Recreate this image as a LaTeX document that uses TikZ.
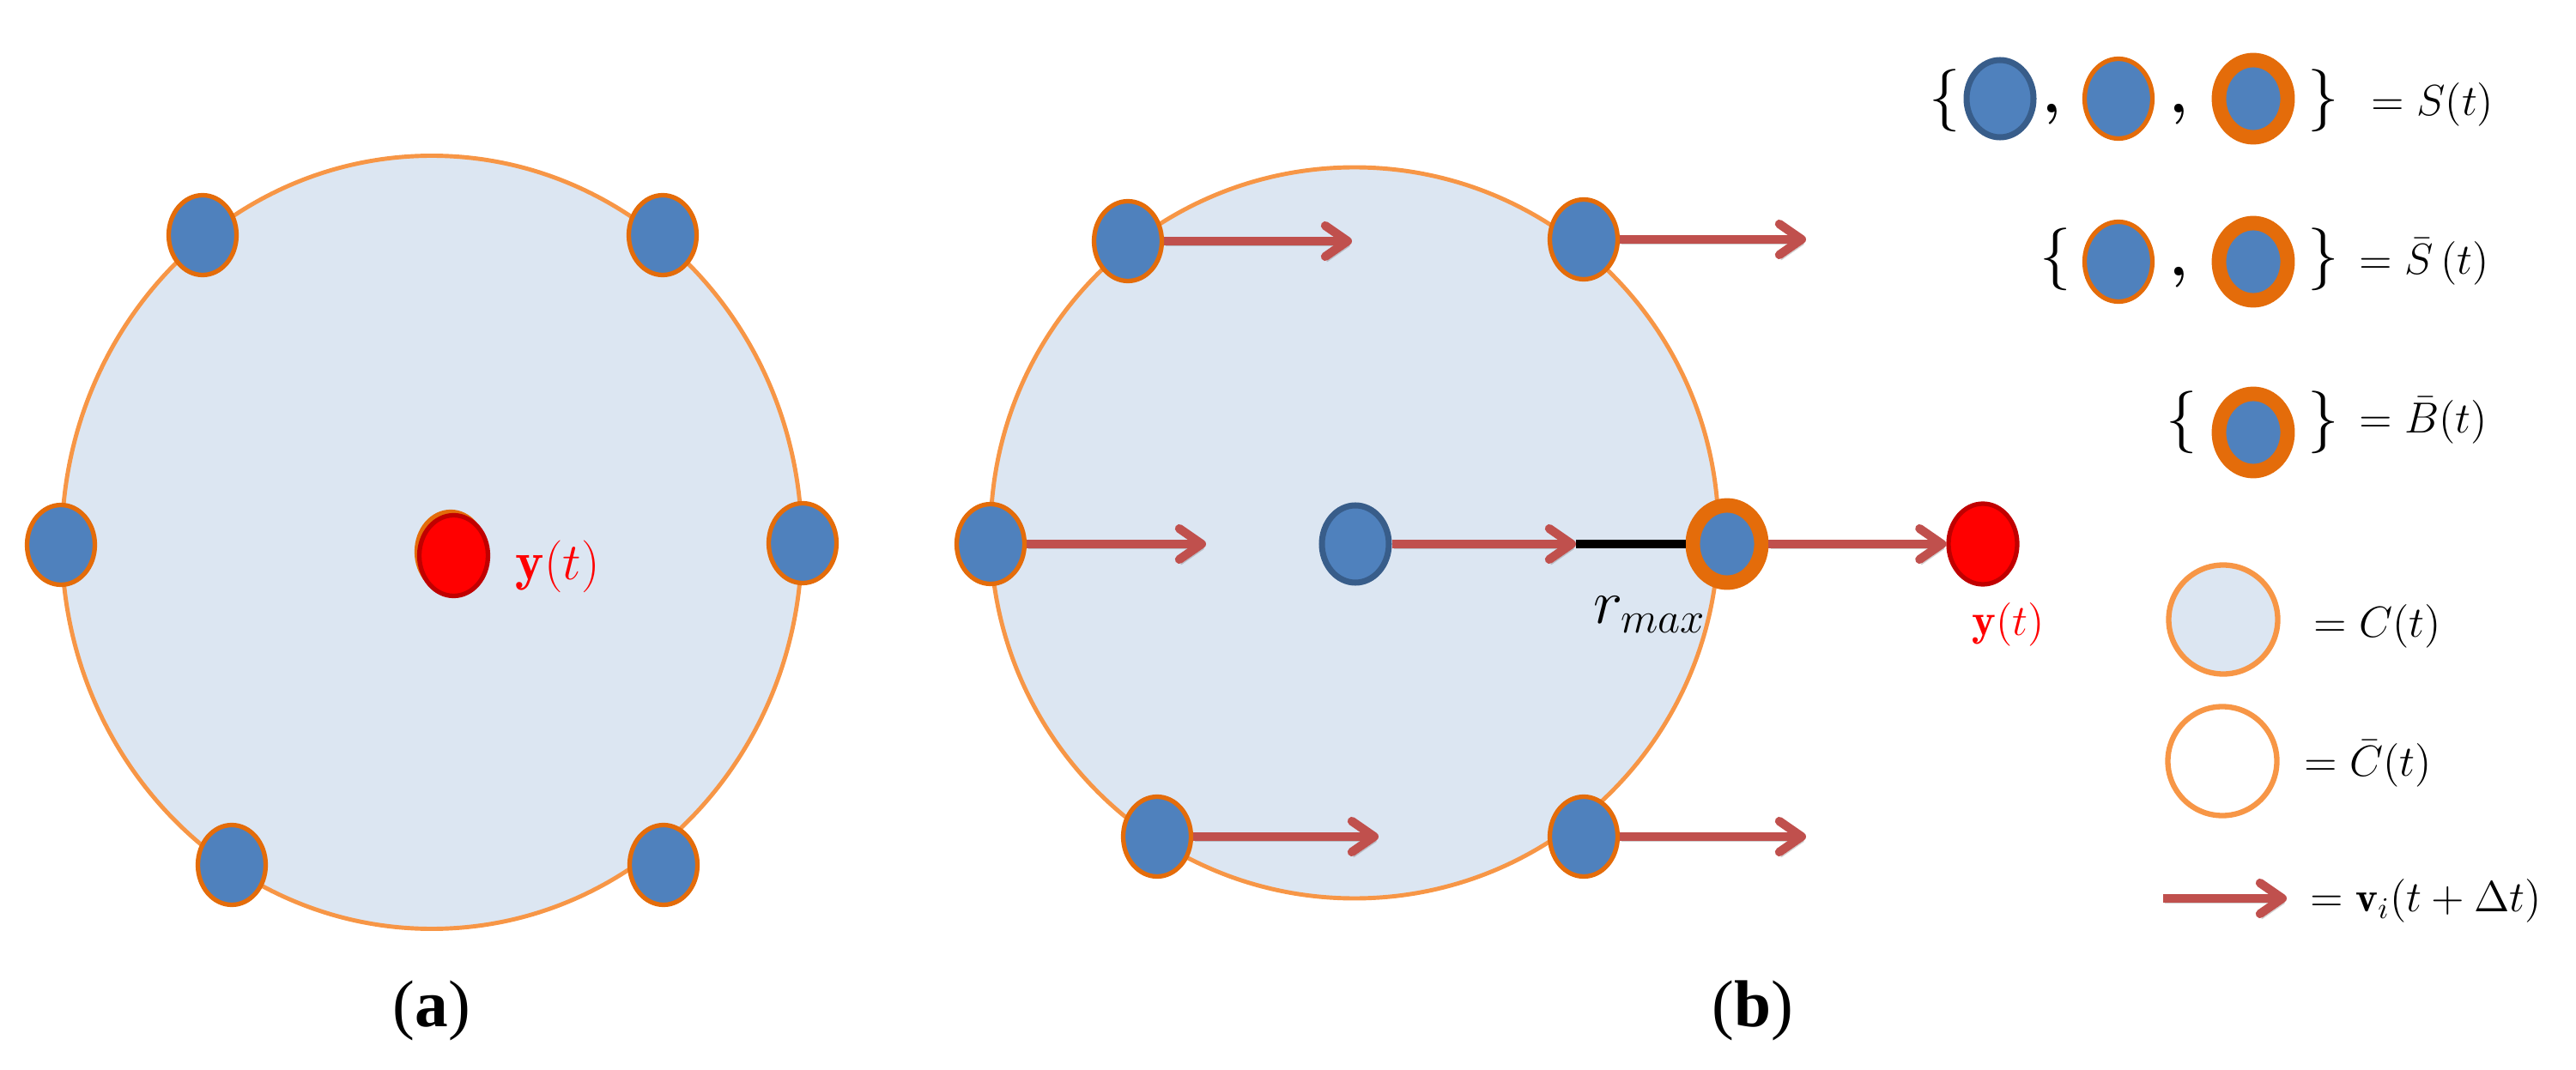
\documentclass[tikz,border=0pt]{standalone}
\usepackage{fontspec}
\usepackage{amsmath}
\usetikzlibrary{shapes.geometric, arrows.meta, positioning}
\newfontfamily\capfont{Liberation Serif}
\definecolor{zonefill}{RGB}{220,230,242}
\definecolor{zoneline}{RGB}{247,150,70}
\definecolor{agentblue}{RGB}{79,129,189}
\definecolor{agentrim}{RGB}{228,108,10}
\definecolor{leadrim}{RGB}{56,93,138}
\definecolor{targetrim}{RGB}{192,0,0}
\definecolor{velored}{RGB}{192,80,77}

\begin{document}
\begin{tikzpicture}[
    zone/.style={ellipse, draw=zoneline, line width=1.4pt, fill=zonefill, inner sep=0pt},
    agent/.style={ellipse, draw=agentrim, line width=1.5pt, fill=agentblue, inner sep=0pt, minimum width=0.79cm, minimum height=0.93cm},
    leader/.style={agent, draw=leadrim, line width=2pt, minimum width=0.78cm, minimum height=0.90cm},
    rim/.style={agent, line width=4.8pt, minimum width=0.80cm, minimum height=0.90cm},
    target/.style={agent, draw=targetrim, fill=red, minimum width=0.80cm, minimum height=0.94cm},
    velo/.style={draw=velored, line width=2.9pt, -{Straight Barb[length=2.6mm, width=3.6mm, line cap=round, line join=round]},
      preaction={draw=black!60, opacity=0.3, transform canvas={xshift=0.6pt, yshift=-1.6pt}}},
    lbl/.style={inner sep=0pt},
    legtxt/.style={lbl, anchor=west, font=\fontsize{14}{16}\selectfont},
    brace/.style={lbl, font=\fontsize{22}{26}\selectfont},
    sep/.style={lbl, anchor=base, font=\fontsize{20}{24}\selectfont\bfseries},
    caption/.style={lbl, font=\capfont\fontsize{22}{26}\selectfont}
  ]
  \useasboundingbox (0,0) rectangle (30.01,12.46);

  % Panel (a)
  \node[zone, minimum width=8.62cm, minimum height=9.01cm] (za) at (5.03,6.14) {};
  \node[agent] (a1) at (2.36,9.72) {};
  \node[agent] (a2) at (7.72,9.72) {};
  \node[agent] (a3) at (0.71,6.11) {};
  \node[agent] (a4) at (9.35,6.13) {};
  \node[agent] (a5) at (2.70,2.38) {};
  \node[agent] (a6) at (7.73,2.38) {};
  \node[agent, fill=agentrim] (a0) at (5.25,6.03) {};
  \node[target] (ya) at (5.285,5.985) {};
  \node[lbl, anchor=west, text=red, font=\fontsize{18}{21}\selectfont] (yalab) at (6.00,5.86) {$\mathbf{y}(t)$};
  \node[caption] (capa) at (5.03,0.68) {(\textbf{a})};

  % Panel (b)
  \node[zone, minimum width=8.48cm, minimum height=8.52cm] (zb) at (15.78,6.25) {};
  \node[agent] (b1) at (13.14,9.65) {};
  \node[agent] (b2) at (18.45,9.67) {};
  \node[agent] (b3) at (11.54,6.12) {};
  \node[agent] (b4) at (13.48,2.71) {};
  \node[agent] (b5) at (18.45,2.71) {};
  \node[leader] (ld) at (15.79,6.12) {};
  \node[rim] (bnd) at (20.12,6.12) {};
  \node[target] (yb) at (23.10,6.12) {};

  \coordinate (t1) at (15.75,9.65);
  \coordinate (t2) at (21.04,9.67);
  \coordinate (t3) at (14.05,6.12);
  \coordinate (t4) at (16.06,2.71);
  \coordinate (t5) at (21.04,2.71);
  \coordinate (tl) at (18.36,6.12);

  % Arrows
  \draw[line width=2.9pt] (tl) -- (bnd.west);
  \draw[velo] (b1.east) -- (t1);
  \draw[velo] (b2.east) -- (t2);
  \draw[velo] (b3.east) -- (t3);
  \draw[velo] (b4.east) -- (t4);
  \draw[velo] (b5.east) -- (t5);
  \draw[velo] (ld.east) -- (tl);
  \draw[velo] (bnd.east) -- (yb.west);

  % Annotations
  \node[lbl, font=\fontsize{21}{24}\selectfont] (rmx) at (19.22,5.30) {$r_{max}$};
  \node[lbl, text=red, font=\fontsize{15}{18}\selectfont] (yblab) at (23.40,5.18) {$\mathbf{y}(t)$};
  \node[caption] (capb) at (20.42,0.68) {(\textbf{b})};

  % Legend
  \node[brace] (l1o) at (22.66,11.29) {$\{$};
  \node[leader] (l1a) at (23.30,11.31) {};
  \node[sep] (l1c) at (23.90,11.14) {,};
  \node[agent] (l1b) at (24.68,11.31) {};
  \node[sep] (l1d) at (25.38,11.14) {,};
  \node[rim] (l1r) at (26.25,11.31) {};
  \node[brace] (l1e) at (27.07,11.29) {$\}$};
  \node[legtxt] (l1t) at (27.62,11.24) {$= S(t)$};

  \node[brace] (l2o) at (23.95,9.44) {$\{$};
  \node[agent] (l2b) at (24.68,9.41) {};
  \node[sep] (l2c) at (25.38,9.24) {,};
  \node[rim] (l2r) at (26.25,9.41) {};
  \node[brace] (l2e) at (27.07,9.44) {$\}$};
  \node[legtxt] (l2t) at (27.48,9.41) {$= \bar{S}\,(t)$};

  \node[brace] (l3o) at (25.42,7.54) {$\{$};
  \node[rim] (l3r) at (26.25,7.42) {};
  \node[brace] (l3e) at (27.07,7.54) {$\}$};
  \node[legtxt] (l3t) at (27.48,7.56) {$= \bar{B}(t)$};

  \node[zone, line width=1.8pt, minimum width=1.27cm, minimum height=1.27cm] (l4z) at (25.90,5.24) {};
  \node[legtxt] (l4t) at (26.95,5.16) {$= C(t)$};
  \node[zone, fill=white, line width=1.8pt, minimum width=1.27cm, minimum height=1.27cm] (l5z) at (25.89,3.59) {};
  \node[legtxt] (l5t) at (26.84,3.56) {$= \bar{C}(t)$};

  \coordinate (l6s) at (25.20,1.99);
  \coordinate (l6e) at (26.64,1.99);
  \draw[velo] (l6s) -- (l6e);
  \node[legtxt] (l6t) at (26.91,1.96) {$= \mathbf{v}_i(t + \Delta t)$};

\end{tikzpicture}
\end{document}
